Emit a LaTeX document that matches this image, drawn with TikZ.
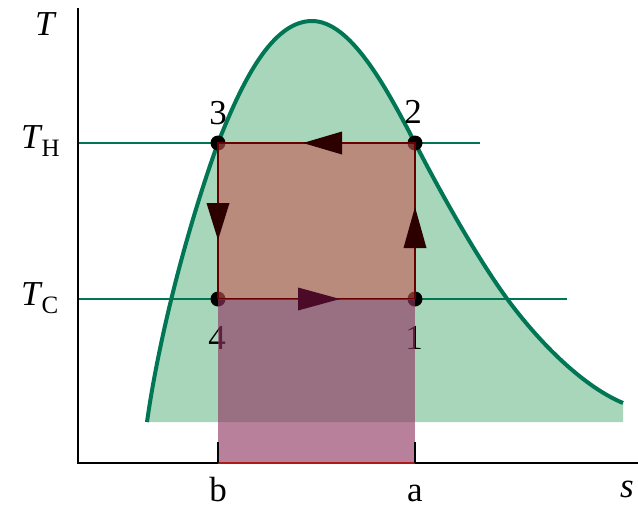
\documentclass[tikz,border=0pt]{standalone}
\usepackage{fontspec}
\setmainfont{Liberation Serif}
\definecolor{greenline}{RGB}{0,118,84}
\definecolor{greenfill}{RGB}{168,214,186}
\definecolor{sqcol}{RGB}{195,90,85}
\definecolor{overcol}{RGB}{144,54,97}
\definecolor{edgecol}{RGB}{105,0,0}
\definecolor{arrcol}{RGB}{45,0,0}
\definecolor{botarr}{RGB}{75,10,40}
\definecolor{basered}{RGB}{175,25,25}
\begin{document}
\begin{tikzpicture}[x=1pt,y=-1pt,
  lbl/.style={font=\fontsize{35}{38}\selectfont, inner sep=0pt},
  ptdot/.style={fill=black},
  isoline/.style={draw=greenline, line width=2.5pt},
  edge/.style={draw=edgecol, line width=2.4pt},
  axis/.style={draw=black, line width=2.5pt}]
\useasboundingbox (0,0) rectangle (638,509);
\def\dome{(147,422) .. controls (160,330) and (190,220) .. (218,143)
  .. controls (242,82) and (272,21) .. (312,21)
  .. controls (350,21) and (385,85) .. (415,143)
  .. controls (445,201) and (480,262) .. (508,300)
  .. controls (536,338) and (580,385) .. (623,403)}
% named points
\coordinate (P1) at (415,299);
\coordinate (P2) at (415,143);
\coordinate (P3) at (218,143);
\coordinate (P4) at (218,299);
\coordinate (B) at (218,463);
\coordinate (A) at (415,463);
\coordinate (O) at (78,463);
\coordinate (Ytop) at (78,8);
\coordinate (Xend) at (638,463);
\coordinate (THs) at (78,143);
\coordinate (THe) at (480,143);
\coordinate (TCs) at (78,299);
\coordinate (TCe) at (567,299);
% dome fill
\fill[greenfill] \dome -- (623,422) -- (147,422) -- cycle;
% isotherms
\draw[isoline] (THs) -- (THe);
\draw[isoline] (TCs) -- (TCe);
% dome line
\draw[greenline, line width=4pt] \dome;
% labels under overlay
\node[lbl] (l4) at (217,338) {4};
\node[lbl] (l1) at (414,338) {1};
% dots
\fill[ptdot] (P1) circle (7.5);
\fill[ptdot] (P2) circle (7.5);
\fill[ptdot] (P3) circle (7.5);
\fill[ptdot] (P4) circle (7.5);
% square
\fill[sqcol, opacity=0.6] (P3) rectangle (P1);
\draw[edge] (P4) -- (P1);
\draw[edge] (P1) -- (P2) -- (P3) -- (P4);
% lower overlay
\fill[overcol, opacity=0.63] (P4) rectangle (A);
% arrows
\fill[arrcol] (303,143) -- (342,131.5) -- (342,154.5) -- cycle;
\fill[arrcol] (218,240) -- (206.5,203) -- (229.5,203) -- cycle;
\fill[arrcol] (415,207) -- (403.5,248) -- (426.5,248) -- cycle;
\fill[botarr] (340,299) -- (298,287.5) -- (298,310.5) -- cycle;
% axes
\draw[axis] (Ytop) -- (O) -- (Xend);
\draw[basered, line width=2pt] (B) -- (A);
\draw[black, line width=1.5pt] (B) -- ++(0,-21);
\draw[black, line width=1.5pt] (A) -- ++(0,-21);
% labels
\node[lbl, anchor=base] (lT) at (46,35) {\textit{T}};
\node[lbl, anchor=base west] (lTH) at (21,148) {\textit{T}\kern-1pt\raisebox{-8pt}{\fontsize{25}{27}\selectfont H}};
\node[lbl, anchor=base west] (lTC) at (21,305) {\textit{T}\kern-1pt\raisebox{-8pt}{\fontsize{25}{27}\selectfont C}};
\node[lbl] (l3) at (218,113) {3};
\node[lbl] (l2) at (413,112) {2};
\node[lbl, anchor=base] (lb) at (218,501) {b};
\node[lbl, anchor=base] (la) at (415,501) {a};
\node[lbl, anchor=base] (ls) at (627,497) {\textit{s}};
\end{tikzpicture}
\end{document}
